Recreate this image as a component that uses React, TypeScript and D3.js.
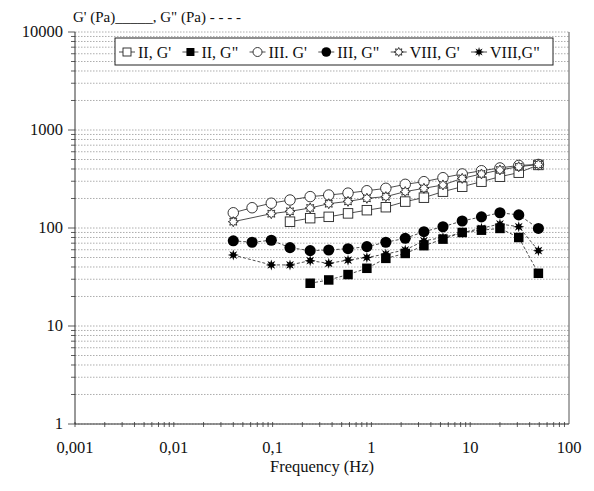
import React, { useEffect, useRef, useState } from "react";
import { scaleLog, line, range } from "d3";

// frequency (Hz) of each measured point
const freqs = [0.04, 0.062, 0.097, 0.15, 0.24, 0.37, 0.58, 0.9, 1.4, 2.2, 3.4, 5.3, 8.3, 13, 20, 31, 49];

// moduli (Pa), null where no point is drawn
const iiG1 = [null, null, null, 116, 126, 130, 141, 152, 163, 186, 204, 235, 264, 297, 334, 367, 440];
const iiG2 = [null, null, null, null, 27.3, 29.5, 33.5, 38.8, 49, 55, 66, 77, 90, 95, 99, 80, 34.5];
const iiiG1 = [143, 161, 179, 193, 209, 217, 227, 240, 254, 279, 297, 326, 356, 384, 410, 435, 445];
const iiiG2 = [74, 71.5, 75, 63, 58.7, 59.7, 61.5, 64.5, 71.5, 78.5, 91.7, 103, 118, 130, 143, 136, 99];
const viiiG1 = [116, null, 140, 148, 160, 177, 187, 201, 209, 235, 254, 275, 321, 356, 391, 422, 445];
const viiiG2 = [53, null, 42, 42, 46.4, 43.6, 47, 50, 54.3, 59.7, 74, 80, 89.6, 99.3, 110, 103, 58.7];

const seriesNames = ["II, G'", "II, G\"", "III. G'", "III, G\"", "VIII, G'", "VIII,G\""];
const xTicks = [0.001, 0.01, 0.1, 1, 10, 100];
const xTickLabels = ["0,001", "0,01", "0,1", "1", "10", "100"];
const yTicks = [1, 10, 100, 1000, 10000];

const W = 594;
const H = 491;
const plot = { left: 75, right: 569, top: 32, bottom: 424 };
const font = 'Liberation Serif, Times New Roman, Times, DejaVu Serif, serif';

const x = scaleLog().domain([0.001, 100]).range([plot.left, plot.right]);
const y = scaleLog().domain([1, 10000]).range([plot.bottom, plot.top]);

type Kind = "sqOpen" | "sqFill" | "cirOpen" | "cirFill" | "starOpen" | "starFill";

const series: { name: string; values: (number | null)[]; kind: Kind; dashed: boolean }[] = [
  { name: seriesNames[0], values: iiG1, kind: "sqOpen", dashed: false },
  { name: seriesNames[1], values: iiG2, kind: "sqFill", dashed: true },
  { name: seriesNames[2], values: iiiG1, kind: "cirOpen", dashed: false },
  { name: seriesNames[3], values: iiiG2, kind: "cirFill", dashed: true },
  { name: seriesNames[4], values: viiiG1, kind: "starOpen", dashed: false },
  { name: seriesNames[5], values: viiiG2, kind: "starFill", dashed: true },
];

function starPath(ro: number, ri: number) {
  const pts = range(16).map((i) => {
    const a = (Math.PI / 8) * i - Math.PI / 2;
    const r = i % 2 === 0 ? ro : ri;
    return [r * Math.cos(a), r * Math.sin(a)];
  });
  return "M" + pts.map((p) => p.join(",")).join("L") + "Z";
}

function Marker({ kind, cx, cy, s }: { kind: Kind; cx: number; cy: number; s: number }) {
  const h = s / 2;
  switch (kind) {
    case "sqOpen":
      return <rect x={cx - h} y={cy - h} width={s} height={s} fill="#fff" stroke="#222" strokeWidth={0.9} />;
    case "sqFill":
      return <rect x={cx - h} y={cy - h} width={s} height={s} fill="#000" />;
    case "cirOpen":
      return <circle cx={cx} cy={cy} r={h + 0.5} fill="#fff" stroke="#222" strokeWidth={0.9} />;
    case "cirFill":
      return <circle cx={cx} cy={cy} r={h + 0.8} fill="#000" />;
    case "starOpen":
      return <path transform={`translate(${cx},${cy})`} d={starPath(h, h * 0.6)} fill="#fff" stroke="#222" strokeWidth={0.9} />;
    default:
      return <path transform={`translate(${cx},${cy})`} d={starPath(h + 0.5, h * 0.5)} fill="#000" />;
  }
}

export default function App() {
  const textRefs = useRef<(SVGTextElement | null)[]>([]);
  const [widths, setWidths] = useState<number[] | null>(null);

  useEffect(() => {
    setWidths(textRefs.current.map((t) => (t ? t.getComputedTextLength() : 40)));
  }, []);

  const minor: number[] = [];
  for (let d = 0; d < 4; d++) for (let k = 1; k <= 9; k++) minor.push(k * Math.pow(10, d));
  minor.push(10000);
  const xMinor: number[] = [];
  for (let d = -3; d < 2; d++) for (let k = 1; k <= 9; k++) xMinor.push(k * Math.pow(10, d));

  const path = line<[number, number]>()
    .x((d) => x(d[0]))
    .y((d) => y(d[1]));

  // legend layout: spread items so they fill the box
  const boxL = 115, boxR = 553;
  const ws = widths ?? seriesNames.map(() => 40);
  const used = ws.reduce((a, b) => a + b, 0) + 6 * 22;
  const gap = (boxR - boxL - 6 - used) / 6;
  const legendX: number[] = [];
  let cur = boxL + 12;
  ws.forEach((w) => {
    legendX.push(cur);
    cur += 11 + w + gap + 11;
  });

  const txt = { fontFamily: font, fontSize: 16, fill: "#111" };

  return (
    <svg width={W} height={H} style={{ position: "absolute", left: 0, top: 0, background: "#fff" }}>
      {/* horizontal grid */}
      {minor.map((v, i) => (
        <line key={"g" + i} x1={plot.left} x2={plot.right} y1={y(v)} y2={y(v)} stroke="#999" strokeWidth={0.8} strokeDasharray="1.5,1.5" />
      ))}
      {/* y ticks */}
      {minor.map((v, i) => (
        <line key={"yt" + i} x1={plot.left - (yTicks.includes(v) ? 7 : 4)} x2={plot.left} y1={y(v)} y2={y(v)} stroke="#333" strokeWidth={0.8} />
      ))}
      {/* x ticks */}
      {xMinor.map((v, i) => (
        <line key={"xt" + i} x1={x(v)} x2={x(v)} y1={plot.bottom - 2} y2={plot.bottom + 3} stroke="#333" strokeWidth={0.8} />
      ))}
      {/* frame */}
      <line x1={plot.right} x2={plot.right} y1={plot.top} y2={plot.bottom} stroke="#555" strokeWidth={1} />
      <line x1={plot.left} x2={plot.left} y1={plot.top} y2={plot.bottom} stroke="#333" strokeWidth={1} />
      <line x1={plot.left} x2={plot.right} y1={plot.bottom} y2={plot.bottom} stroke="#333" strokeWidth={1} />

      {/* tick labels */}
      {yTicks.map((v) => (
        <text key={"yl" + v} x={plot.left - 12} y={y(v) + 5} textAnchor="end" style={{ ...txt, fontSize: 16.5 }}>
          {v}
        </text>
      ))}
      {xTicks.map((v, i) => (
        <text key={"xl" + v} x={x(v)} y={453} textAnchor="middle" style={{ ...txt, fontSize: 16.5 }}>
          {xTickLabels[i]}
        </text>
      ))}
      <text x={(plot.left + plot.right) / 2} y={472} textAnchor="middle" style={{ ...txt, fontSize: 16.5 }}>
        Frequency (Hz)
      </text>
      <text x={73} y={22} style={{ ...txt, fontSize: 15 }}>
        G' (Pa)_____, G" (Pa) - - - -
      </text>

      {/* series */}
      {series.map((s) => {
        const pts = freqs
          .map((f, i) => [f, s.values[i]] as [number, number | null])
          .filter((d) => d[1] != null) as [number, number][];
        return (
          <g key={s.name}>
            <path d={path(pts) ?? ""} fill="none" stroke="#222" strokeWidth={0.8} strokeDasharray={s.dashed ? "3,2" : undefined} />
            {pts.map((d, i) => (
              <Marker key={i} kind={s.kind} cx={x(d[0])} cy={y(d[1])} s={s.kind.startsWith("star") ? 10 : 9.5} />
            ))}
          </g>
        );
      })}

      {/* legend */}
      <rect x={boxL} y={38} width={boxR - boxL} height={27} fill="#fff" stroke="#222" strokeWidth={1} />
      {series.map((s, i) => (
        <g key={"lg" + i}>
          <line x1={legendX[i] - 8} x2={legendX[i] + 8} y1={52} y2={52} stroke="#222" strokeWidth={0.8} />
          <Marker kind={s.kind} cx={legendX[i]} cy={52} s={s.kind.startsWith("star") ? 9 : 8} />
          <text ref={(el) => { textRefs.current[i] = el; }} x={legendX[i] + 11} y={57.5} style={txt}>
            {s.name}
          </text>
        </g>
      ))}
    </svg>
  );
}
